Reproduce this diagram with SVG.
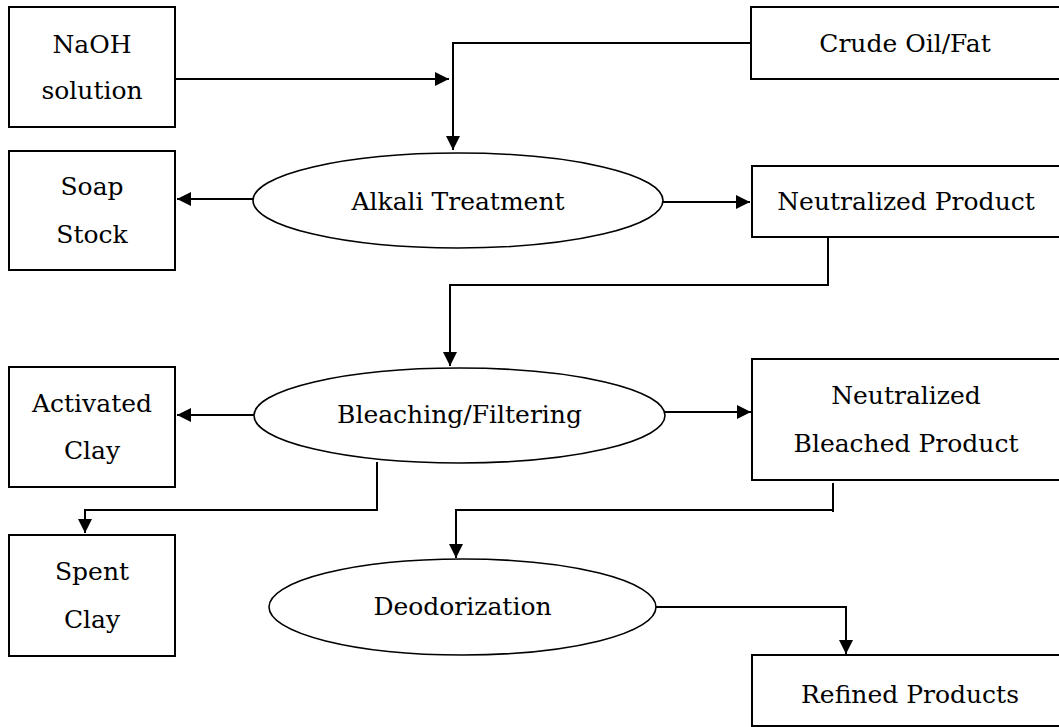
<svg xmlns="http://www.w3.org/2000/svg" width="1059" height="727" viewBox="0 0 1059 727">
<style>
.box{fill:#fff;stroke:#000;stroke-width:2}
.oval{fill:#fff;stroke:#000;stroke-width:1.6}
.t{font-family:"DejaVu Serif","Liberation Serif",serif;font-size:25px;fill:#000;text-anchor:middle}
.c{fill:none;stroke:#000;stroke-width:2}
</style>
<defs>
<marker id="ah" markerUnits="userSpaceOnUse" markerWidth="15" markerHeight="15" refX="14" refY="7" orient="auto">
<path d="M0,0 L14,7 L0,14 z" fill="#000"/>
</marker>
</defs>
<rect width="1059" height="727" fill="#fff"/>
<g id="connectors">
<path class="c" d="M175,79 H449" marker-end="url(#ah)"/>
<path class="c" d="M751,43 H453 V150" marker-end="url(#ah)"/>
<path class="c" d="M253,199 H177" marker-end="url(#ah)"/>
<path class="c" d="M663,202 H750" marker-end="url(#ah)"/>
<path class="c" d="M828,237 V286 M828,285 H450 V366" marker-end="url(#ah)"/>
<path class="c" d="M254,415 H177" marker-end="url(#ah)"/>
<path class="c" d="M665,412 H751" marker-end="url(#ah)"/>
<path class="c" d="M377,462 V510 H85 V533" marker-end="url(#ah)"/>
<path class="c" d="M833,483 V512 M833,510 H456 V558" marker-end="url(#ah)"/>
<path class="c" d="M656,607 H846 V654" marker-end="url(#ah)"/>
</g>
<g id="naoh"><rect class="box" x="9" y="7" width="166" height="120"/><text class="t" x="92" y="53">NaOH</text><text class="t" x="92" y="99">solution</text></g>
<g id="crude"><rect class="box" x="751" y="7" width="320" height="72"/><text class="t" x="905" y="52">Crude Oil/Fat</text></g>
<g id="soap"><rect class="box" x="9" y="151" width="166" height="119"/><text class="t" x="92" y="195">Soap</text><text class="t" x="92" y="243">Stock</text></g>
<g id="alkali"><ellipse class="oval" cx="458" cy="200.5" rx="205" ry="47.5"/><text class="t" x="458" y="210">Alkali Treatment</text></g>
<g id="neutral"><rect class="box" x="752" y="166" width="320" height="71"/><text class="t" x="906" y="210">Neutralized Product</text></g>
<g id="activated"><rect class="box" x="9" y="367" width="166" height="120"/><text class="t" x="92" y="412">Activated</text><text class="t" x="92" y="459">Clay</text></g>
<g id="bleach"><ellipse class="oval" cx="459.5" cy="415.5" rx="205.5" ry="47.5"/><text class="t" x="459.5" y="423">Bleaching/Filtering</text></g>
<g id="nbp"><rect class="box" x="752" y="359" width="320" height="121"/><text class="t" x="906" y="404">Neutralized</text><text class="t" x="906" y="452">Bleached Product</text></g>
<g id="spent"><rect class="box" x="9" y="535" width="166" height="121"/><text class="t" x="92" y="580">Spent</text><text class="t" x="92" y="628">Clay</text></g>
<g id="deodor"><ellipse class="oval" cx="462.5" cy="607" rx="193.5" ry="48"/><text class="t" x="462.5" y="615">Deodorization</text></g>
<g id="refined"><rect class="box" x="752" y="655" width="320" height="71"/><text class="t" x="910" y="703">Refined Products</text></g>
</svg>
